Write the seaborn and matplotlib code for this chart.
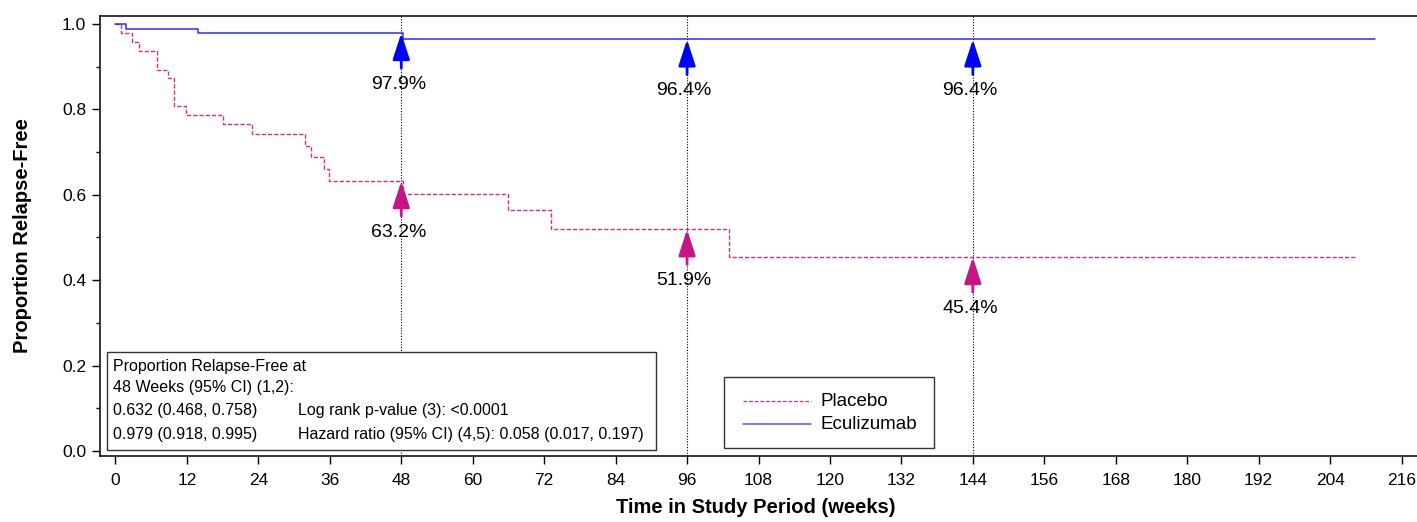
import matplotlib
matplotlib.use('Agg')
import matplotlib.pyplot as plt
import seaborn as sns
from matplotlib.patches import Rectangle
from matplotlib.lines import Line2D

# Kaplan-Meier step data
placebo_weeks = [0, 0.85, 2.8, 3.9, 7.0, 8.9, 9.8, 11.9, 18.0, 22.9, 31.9, 32.9,
                 35.0, 35.9, 48.3, 66.0, 73.1, 103.1, 208.4]
placebo_surv = [1.0, 0.979, 0.958, 0.936, 0.893, 0.873, 0.809, 0.787, 0.765, 0.742,
                0.715, 0.689, 0.661, 0.632, 0.602, 0.564, 0.519, 0.454, 0.454]

ecu_weeks = [0, 1.8, 13.9, 48.3, 211.5]
ecu_surv = [1.0, 0.989, 0.979, 0.964, 0.964]

# landmark annotations
mark_weeks = [48, 96, 144]
ecu_pct = [97.9, 96.4, 96.4]
placebo_pct = [63.2, 51.9, 45.4]

x_ticks = list(range(0, 217, 12))
y_ticks = [0.0, 0.2, 0.4, 0.6, 0.8, 1.0]

box_lines_left = ['Proportion Relapse-Free at', '48 Weeks (95% CI) (1,2):',
                  '0.632 (0.468, 0.758)', '0.979 (0.918, 0.995)']
box_lines_right = ['', '', 'Log rank p-value (3): <0.0001',
                   'Hazard ratio (95% CI) (4,5): 0.058 (0.017, 0.197)']

BLUE = '#0000FF'
MAG = '#C71585'

sns.set_style('ticks')
plt.rcParams['font.family'] = ['Liberation Sans', 'DejaVu Sans']
plt.rcParams.update({'text.color': 'black', 'axes.labelcolor': 'black',
                     'xtick.color': 'black', 'ytick.color': 'black',
                     'axes.edgecolor': 'black'})

fig = plt.figure(figsize=(14.17, 5.22), dpi=100)
ax = fig.add_axes([100 / 1417, 66 / 522, 1317 / 1417, 440 / 522])

# reference lines at the landmark weeks
for w in mark_weeks:
    ax.axvline(w, color='black', lw=0.8, ls=(0, (1, 1.5)), zorder=1)

sns.lineplot(x=placebo_weeks, y=placebo_surv, ax=ax, drawstyle='steps-post',
             estimator=None, color='#CC2C8E', lw=1.0, dashes=False,
             linestyle=(0, (3, 1.5)), zorder=3)
sns.lineplot(x=ecu_weeks, y=ecu_surv, ax=ax, drawstyle='steps-post',
             estimator=None, color='#2B2BFF', lw=1.1, zorder=3)

# arrows + percentage labels
for w, b, p in zip(mark_weeks, ecu_pct, placebo_pct):
    for val, col in ((b / 100, BLUE), (p / 100, MAG)):
        ax.annotate('', xy=(w, val), xytext=(w, val - 0.082),
                    arrowprops=dict(arrowstyle='-|>,head_length=0.8,head_width=0.26',
                                    color=col, lw=2, mutation_scale=20,
                                    shrinkA=0, shrinkB=0), zorder=4)
        ax.text(w - 0.5, val - 0.12, f'{val * 100:.1f}%', ha='center', va='center',
                fontsize=14, color='black', zorder=5)

ax.set_xlim(-2.6, 218.6)
ax.set_ylim(-0.012, 1.019)
ax.set_xticks(x_ticks)
ax.set_yticks(y_ticks)
ax.set_yticklabels([f'{v:.1f}' for v in y_ticks])
ax.set_yticks([0.1, 0.3, 0.5, 0.7, 0.9], minor=True)
ax.tick_params(axis='both', which='major', labelsize=12.5, length=6, width=1, pad=4)
ax.tick_params(axis='y', which='minor', length=3, width=1)
ax.tick_params(axis='x', pad=6)
for s in ['left', 'bottom', 'top']:
    ax.spines[s].set_linewidth(1.1)
    ax.spines[s].set_color('black')
ax.spines['right'].set_visible(False)

ax.set_xlabel('Time in Study Period (weeks)', fontsize=14.5, fontweight='bold', va='center')
ax.xaxis.set_label_coords(0.498, -0.118)
ax.set_ylabel('Proportion Relapse-Free', fontsize=14.5, fontweight='bold',
              va='center', ha='center')
ax.yaxis.set_label_coords(-0.0592, 0.502)

# statistics box
ax.add_patch(Rectangle((0.0053, 0.0136), 0.4167, 0.2224, transform=ax.transAxes,
                       fill=True, facecolor='white', edgecolor='#333333', lw=1.0, zorder=6))
line_y = [0.2045, 0.155, 0.1025, 0.048]
for ly, lt, rt in zip(line_y, box_lines_left, box_lines_right):
    ax.text(0.0095, ly, lt, transform=ax.transAxes, fontsize=11.5, va='center', zorder=7)
    if rt:
        ax.text(0.1503, ly, rt, transform=ax.transAxes, fontsize=11.5, va='center', zorder=7)

# legend box
ax.add_patch(Rectangle((0.4738, 0.018), 0.1595, 0.1615, transform=ax.transAxes,
                       fill=True, facecolor='white', edgecolor='#333333', lw=1.0, zorder=6))
ax.add_line(Line2D([0.4882, 0.5398], [0.125, 0.125], transform=ax.transAxes,
                   color='#CC2C8E', lw=0.9, ls=(0, (3, 1.5)), zorder=7))
ax.add_line(Line2D([0.4882, 0.5398], [0.0727, 0.0727], transform=ax.transAxes,
                   color='#5555FF', lw=1.1, zorder=7))
ax.text(0.5467, 0.125, 'Placebo', transform=ax.transAxes, fontsize=13.5, va='center', zorder=7)
ax.text(0.5467, 0.0727, 'Eculizumab', transform=ax.transAxes, fontsize=13.5, va='center', zorder=7)

fig.savefig('out.png', dpi=100)
